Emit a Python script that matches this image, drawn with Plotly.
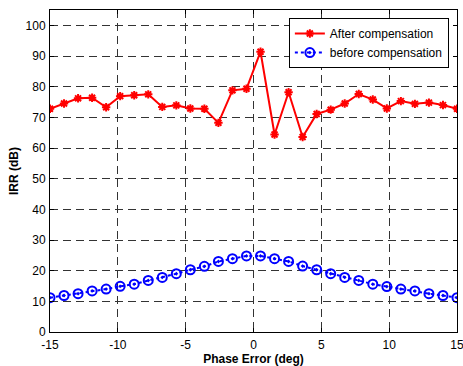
import numpy as np
import plotly.graph_objects as go

phase_error = list(np.linspace(-15, 15, 30))
after_comp = [72.8, 74.5, 76.2, 76.4, 73.3, 76.9, 77.2, 77.5, 73.4, 73.9,
              72.9, 72.8, 68.2, 78.8, 79.3, 91.4, 64.4, 78.2, 63.6, 71.1,
              72.5, 74.5, 77.6, 75.8, 72.9, 75.3, 74.4, 74.8, 74.0, 72.8]
before_comp = [11.2, 11.9, 12.5, 13.4, 14.0, 14.9, 15.6, 16.8, 17.8, 19.0,
               20.3, 21.4, 23.0, 23.9, 24.8, 24.8, 23.9, 23.0, 21.5, 20.3,
               19.0, 17.8, 16.8, 15.6, 14.8, 14.0, 13.4, 12.5, 11.9, 11.2]
x_ticks = [-15, -10, -5, 0, 5, 10, 15]
y_ticks = [0, 10, 20, 30, 40, 50, 60, 70, 80, 90, 100]

FONT = "Liberation Sans, Arial, sans-serif"

fig = go.Figure()
fig.add_trace(go.Scatter(
    x=phase_error, y=after_comp, name="After compensation",
    mode="lines+markers",
    line=dict(color="#ff0000", width=2),
    marker=dict(symbol="asterisk-open", size=7, color="#ff0000",
                line=dict(color="#ff0000", width=2)),
))
fig.add_trace(go.Scatter(
    x=phase_error, y=before_comp, name="before compensation",
    mode="lines+markers",
    line=dict(color="#0000ff", width=2, dash="dot"),
    marker=dict(symbol="circle-open-dot", size=9, color="#0000ff",
                line=dict(color="#0000ff", width=2)),
))

axis_common = dict(
    showline=True, linecolor="black", linewidth=1, mirror="ticks",
    ticks="inside", ticklen=4, tickcolor="black",
    showgrid=True, gridcolor="#333333", gridwidth=1, griddash="8px,5px",
    zeroline=False, ticklabeloverflow="allow", automargin=False,
    tickfont=dict(family=FONT, size=12, color="black"),
)

fig.update_xaxes(range=[-15, 15], tickvals=x_ticks, ticktext=[str(v) for v in x_ticks],
                 ticklabelstandoff=2,
                 title=dict(text="<b>Phase Error (deg)</b>", standoff=2,
                            font=dict(family=FONT, size=12, color="black")),
                 **axis_common)
fig.update_yaxes(range=[0, 105], tickvals=y_ticks, ticktext=[str(v) for v in y_ticks],
                 ticklabelstandoff=1,
                 title=dict(text="<b>IRR (dB)</b>", standoff=4,
                            font=dict(family=FONT, size=12, color="black")),
                 **axis_common)

fig.update_layout(
    width=463, height=366,
    margin=dict(l=50, r=6, t=10, b=34),
    plot_bgcolor="white", paper_bgcolor="white",
    font=dict(family=FONT, size=12, color="black"),
    legend=dict(x=0.98, y=0.975, xanchor="right", yanchor="top",
                bgcolor="white", bordercolor="black", borderwidth=1,
                font=dict(size=12), tracegroupgap=0, itemwidth=30),
    showlegend=True,
)

fig.write_html("out.html", config={"displayModeBar": False},
               post_script="document.body.style.margin='0';")
